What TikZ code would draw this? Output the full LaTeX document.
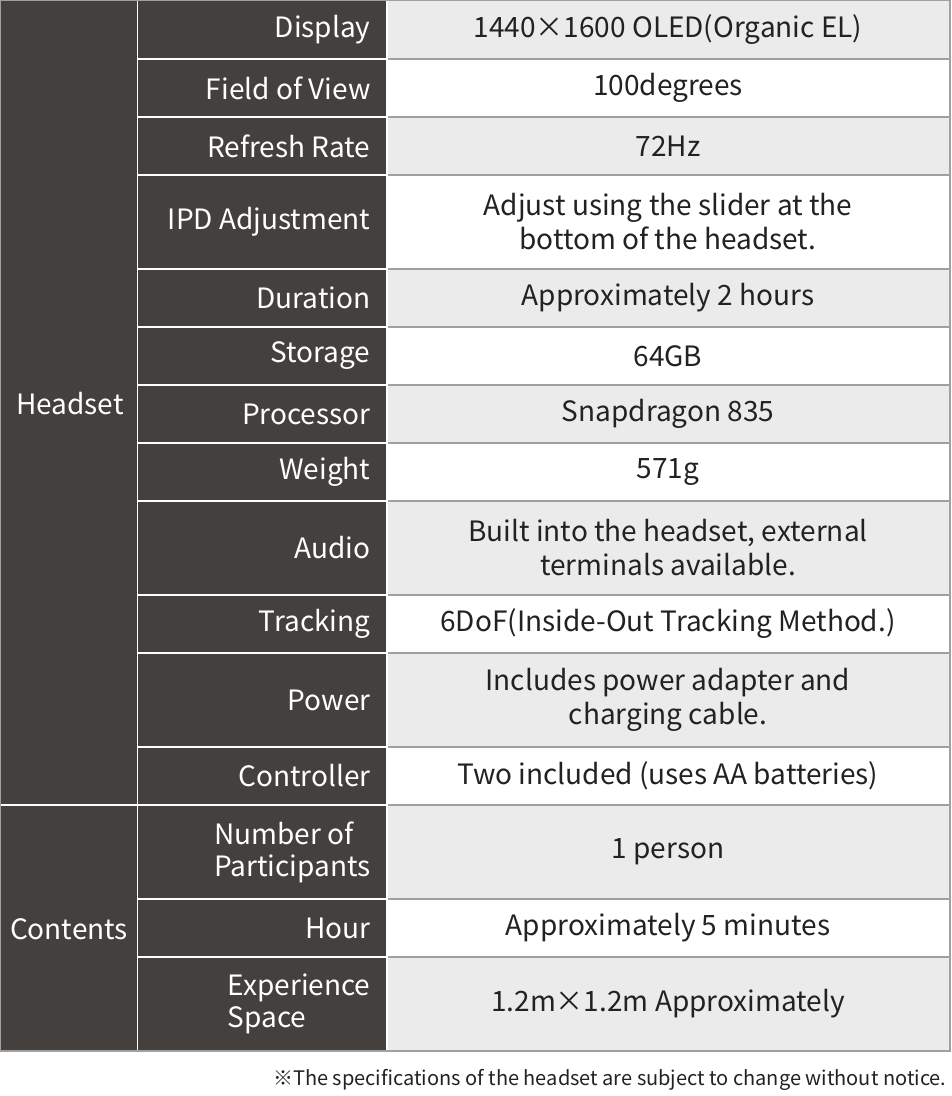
\documentclass[tikz,border=0pt]{standalone}
\usepackage{fontspec}
\setmainfont{Noto Sans CJK JP}
\definecolor{dk}{HTML}{43403D}
\definecolor{lg}{HTML}{EBEBEB}
\definecolor{ln}{HTML}{A0A0A0}
\definecolor{tx}{HTML}{222222}
\begin{document}
\begin{tikzpicture}[x=1pt,y=-1pt,
  hd/.style={font=\fontsize{28}{32}\selectfont,text=white,align=center},
  lb/.style={font=\fontsize{28}{32}\selectfont,text=white,anchor=east,align=left},
  vl/.style={font=\fontsize{28}{34}\selectfont,text=tx,align=center},
  fn/.style={font=\fontsize{20}{24}\selectfont,text=tx,anchor=east}]
\useasboundingbox (0,0) rectangle (952,1096);
\fill[white] (0,0) rectangle (952,1096);
% rows: top, bottom, label, value, shade
\foreach \a/\b/\l/\v/\s [count=\i] in {
 0/59/Display/{1440×1600 OLED(Organic EL)}/lg,
 59/117/Field of View/100degrees/white,
 117/175/Refresh Rate/72Hz/lg,
 175/269/IPD Adjustment/{Adjust using the slider at the\\bottom of the headset.}/white,
 269/327/Duration/Approximately 2 hours/lg,
 327/385/Storage/64GB/white,
 385/443/Processor/Snapdragon 835/lg,
 443/501/Weight/571g/white,
 501/595/Audio/{Built into the headset, external\\terminals available.}/lg,
 595/653/Tracking/{6DoF(Inside-Out Tracking Method.)}/white,
 653/747/Power/{Includes power adapter and\\charging cable.}/lg,
 747/805/Controller/{Two included (uses AA batteries)}/white,
 805/899/{Number of\\Participants}/1 person/lg,
 899/957/Hour/Approximately 5 minutes/white,
 957/1051/{Experience\\Space}/{1.2m×1.2m Approximately}/lg}{
  \fill[\s] (387,\a) rectangle (950,\b);
  \draw[ln,line width=1.5] (387,\a) rectangle (950,\b);
  \fill[dk] (137,\a) rectangle (387,\b);
  \draw[white,line width=1.5] (137,\a) rectangle (387,\b);
  \node[lb] (l\i) at (374,{(\a+\b)/2}) {\l};
  \node[vl] (v\i) at (668,{(\a+\b)/2}) {\v};
}
\fill[dk] (0,0) rectangle (137,805);
\fill[dk] (0,805) rectangle (137,1051);
\draw[white,line width=1.5] (0,805) -- (137,805);
\draw[ln,line width=1.5] (0,0) rectangle (950,1051);
\node[hd] (h) at (70,404) {Headset};
\node[hd] (c) at (69,929) {Contents};
\node[fn] (f) at (950,1080) {※The specifications of the headset are subject to change without notice.};
\end{tikzpicture}
\end{document}
